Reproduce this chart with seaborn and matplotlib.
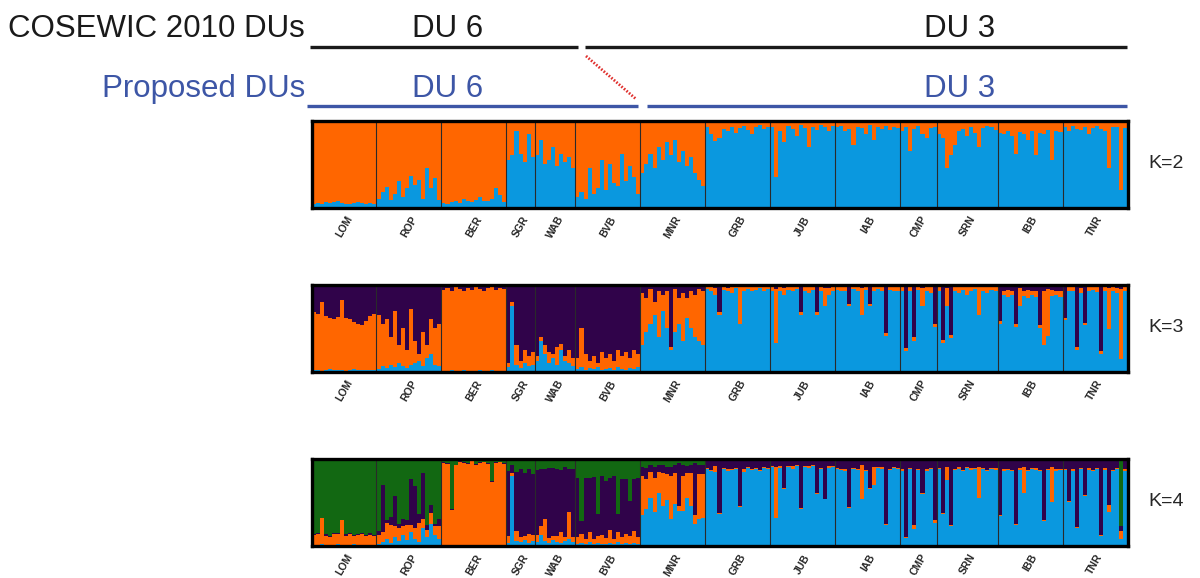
import numpy as np
import pandas as pd
import seaborn as sns
import matplotlib.pyplot as plt

# populations, left to right
pops = ["LOM", "ROP", "BER", "SGR", "WAB", "BVB", "MNR",
        "GRB", "JUB", "IAB", "CMP", "SRN", "IBB", "TNR"]

# ancestry (%) per individual, one inner list per population
# K=2 : blue (bottom), orange = rest
k2_blue = [
    [4, 5, 4, 6, 5, 6, 7, 5, 4, 4, 5, 6, 5, 4, 5, 4],
    [10, 18, 24, 9, 15, 30, 12, 22, 36, 26, 32, 10, 45, 22, 34, 9],
    [5, 4, 6, 8, 5, 10, 7, 6, 9, 12, 8, 7, 10, 22, 14, 6],
    [55, 60, 88, 62, 52, 85, 58],
    [60, 78, 50, 55, 70, 48, 62, 52, 58, 45],
    [12, 18, 10, 45, 15, 22, 55, 20, 50, 28, 25, 62, 30, 48, 35, 15],
    [40, 50, 62, 45, 70, 55, 75, 60, 78, 52, 65, 48, 58, 40, 32, 25],
    [92, 85, 76, 80, 90, 88, 93, 86, 91, 94, 89, 84, 92, 95, 90, 93],
    [93, 35, 88, 75, 94, 90, 82, 95, 91, 70, 93, 89, 95, 92, 88, 94],
    [92, 94, 88, 90, 72, 93, 91, 85, 95, 78, 92, 90, 94, 89, 93, 91],
    [88, 92, 65, 90, 94, 85, 80, 91, 93],
    [85, 80, 45, 60, 72, 88, 90, 82, 93, 86, 70, 91, 94, 92, 89],
    [86, 84, 88, 82, 62, 87, 85, 78, 88, 60, 86, 84, 89, 55, 88, 87],
    [92, 88, 94, 90, 89, 93, 85, 91, 94, 90, 88, 45, 92, 93, 20, 91],
]

# K=3 : blue (bottom), orange, purple = rest
k3_blue = [
    [2, 2, 1, 2, 3, 2, 2, 2, 1, 2, 3, 2, 2, 2, 2, 2],
    [3, 6, 4, 8, 5, 10, 6, 4, 8, 10, 12, 6, 15, 20, 8, 6],
    [1, 1, 2, 1, 1, 2, 1, 1, 1, 2, 1, 1, 2, 1, 1, 1],
    [5, 75, 8, 4, 10, 6, 8],
    [12, 35, 20, 10, 15, 8, 25, 12, 10, 6],
    [3, 5, 2, 4, 3, 5, 2, 3, 4, 2, 5, 3, 2, 4, 3, 5],
    [30, 45, 55, 65, 40, 70, 50, 25, 45, 55, 35, 62, 50, 40, 35, 30],
    [95, 92, 88, 65, 94, 93, 90, 96, 55, 93, 95, 92, 94, 96, 93, 95],
    [93, 33, 92, 88, 94, 92, 95, 65, 93, 90, 94, 65, 92, 75, 88, 93],
    [94, 93, 92, 75, 95, 93, 65, 94, 75, 92, 95, 93, 41, 94, 93, 92],
    [93, 24, 92, 35, 94, 75, 92, 90, 51],
    [92, 33, 75, 39, 93, 90, 94, 88, 92, 95, 65, 93, 90, 94, 92],
    [55, 88, 86, 88, 51, 75, 87, 85, 88, 86, 50, 31, 41, 87, 88, 86],
    [59, 92, 93, 25, 90, 53, 92, 94, 91, 20, 93, 49, 92, 90, 14, 93],
]
k3_orange = [
    [66, 64, 79, 62, 59, 58, 61, 80, 61, 58, 54, 53, 52, 56, 62, 64],
    [62, 49, 56, 32, 65, 20, 44, 21, 64, 25, 8, 39, 15, 40, 42, 49],
    [93, 95, 90, 96, 94, 91, 95, 93, 96, 93, 91, 95, 95, 93, 95, 94],
    [5, 5, 22, 8, 15, 12, 14],
    [6, 5, 10, 12, 5, 20, 7, 6, 15, 9],
    [12, 45, 18, 8, 15, 5, 20, 12, 16, 10, 20, 15, 20, 11, 22, 15],
    [60, 40, 40, 15, 52, 18, 43, 3, 50, 30, 55, 23, 42, 48, 60, 63],
    [3, 5, 8, 3, 4, 3, 7, 3, 42, 5, 4, 5, 4, 3, 4, 3],
    [4, 62, 6, 8, 3, 7, 2, 3, 5, 7, 5, 3, 6, 21, 8, 5],
    [4, 4, 7, 3, 3, 6, 31, 4, 3, 6, 2, 6, 3, 5, 4, 6],
    [5, 3, 5, 5, 5, 21, 6, 7, 4],
    [5, 3, 21, 3, 4, 8, 5, 9, 6, 4, 32, 5, 7, 5, 6],
    [3, 5, 8, 5, 4, 21, 6, 9, 4, 7, 3, 62, 54, 7, 5, 7],
    [3, 5, 5, 3, 6, 3, 5, 4, 6, 3, 5, 47, 5, 6, 81, 5],
]

# K=4 : blue (bottom), orange, purple, green = rest
k4_blue = [
    [1, 1, 2, 1, 1, 1, 2, 1, 1, 1, 2, 1, 1, 1, 1, 1],
    [2, 4, 8, 3, 10, 5, 12, 6, 15, 8, 4, 20, 10, 25, 12, 8],
    [1, 1, 1, 1, 1, 1, 1, 1, 1, 1, 1, 1, 1, 1, 1, 1],
    [3, 80, 5, 4, 6, 3, 5],
    [4, 12, 5, 3, 6, 4, 3, 5, 8, 4],
    [2, 3, 2, 4, 2, 3, 2, 2, 3, 2, 4, 2, 3, 2, 3, 2],
    [35, 42, 55, 38, 60, 45, 52, 30, 48, 40, 40, 55, 45, 25, 30, 32],
    [88, 86, 85, 36, 88, 86, 87, 88, 44, 85, 89, 87, 88, 86, 89, 88],
    [90, 32, 89, 65, 90, 88, 91, 42, 90, 89, 91, 59, 88, 53, 89, 90],
    [88, 87, 86, 43, 88, 87, 53, 86, 65, 70, 89, 88, 24, 87, 89, 88],
    [86, 9, 88, 19, 87, 59, 86, 88, 26],
    [88, 36, 75, 22, 87, 88, 86, 89, 87, 88, 55, 88, 86, 88, 87],
    [34, 86, 87, 86, 24, 87, 60, 86, 88, 87, 86, 28, 87, 50, 86, 87],
    [87, 50, 86, 20, 88, 57, 87, 86, 88, 11, 87, 38, 86, 88, 7, 86],
]
k4_orange = [
    [11, 12, 30, 10, 9, 12, 11, 28, 10, 12, 9, 11, 12, 10, 11, 10],
    [10, 12, 18, 20, 12, 15, 10, 18, 8, 12, 22, 10, 8, 12, 10, 14],
    [94, 93, 40, 92, 95, 94, 93, 96, 92, 94, 95, 93, 72, 94, 95, 93],
    [8, 3, 12, 6, 5, 10, 7],
    [8, 10, 25, 6, 5, 7, 12, 5, 30, 6],
    [8, 10, 6, 12, 5, 8, 10, 7, 15, 6, 12, 8, 10, 9, 14, 8],
    [45, 35, 30, 40, 25, 38, 30, 50, 35, 5, 40, 28, 38, 10, 52, 50],
    [1, 1, 6, 1, 1, 2, 1, 1, 1, 3, 1, 1, 1, 1, 1, 1],
    [1, 58, 2, 1, 1, 3, 1, 1, 1, 2, 1, 1, 1, 1, 2, 1],
    [1, 1, 2, 1, 1, 1, 40, 1, 1, 20, 1, 2, 1, 1, 1, 1],
    [2, 1, 1, 5, 1, 1, 2, 1, 3],
    [1, 1, 15, 1, 1, 2, 1, 1, 2, 1, 35, 1, 1, 1, 2],
    [1, 2, 1, 1, 1, 2, 30, 1, 1, 2, 1, 1, 1, 40, 2, 1],
    [1, 1, 2, 1, 1, 1, 2, 1, 1, 1, 2, 8, 1, 1, 10, 2],
]
k4_purple = [
    [1, 1, 0, 2, 1, 1, 1, 0, 2, 1, 1, 1, 1, 1, 2, 1],
    [5, 53, 3, 10, 35, 5, 8, 5, 54, 48, 10, 53, 5, 10, 3, 8],
    [1, 1, 1, 0, 1, 1, 1, 0, 1, 1, 0, 1, 1, 1, 0, 1],
    [75, 10, 68, 78, 72, 75, 70],
    [75, 66, 58, 80, 78, 77, 72, 80, 50, 78],
    [68, 15, 70, 62, 72, 25, 68, 65, 60, 72, 20, 66, 64, 40, 60, 68],
    [10, 12, 8, 12, 8, 10, 8, 10, 10, 50, 12, 8, 10, 60, 10, 10],
    [9, 11, 7, 61, 9, 10, 10, 9, 53, 10, 8, 10, 9, 11, 8, 9],
    [7, 8, 7, 32, 7, 7, 6, 55, 7, 7, 6, 38, 9, 44, 7, 7],
    [9, 10, 10, 54, 9, 10, 5, 11, 32, 8, 8, 8, 73, 10, 8, 9],
    [10, 88, 9, 74, 10, 38, 10, 9, 68],
    [9, 61, 8, 75, 10, 8, 11, 8, 9, 9, 8, 9, 11, 9, 9],
    [62, 10, 10, 11, 73, 9, 8, 11, 9, 9, 11, 69, 10, 8, 10, 10],
    [10, 47, 10, 77, 9, 40, 9, 11, 9, 86, 9, 52, 11, 9, 5, 10],
]

colors = {"blue": "#0a98df", "orange": "#ff6600",
          "purple": "#30034a", "green": "#126812"}


def long_table(parts, rest_name):
    # parts: list of (cluster name, per-population lists); top cluster is the remainder
    rows = []
    ind = 0
    for p in range(len(pops)):
        for i in range(len(parts[0][1][p])):
            total = 0
            for name, vals in parts:
                rows.append((ind, name, vals[p][i]))
                total += vals[p][i]
            rows.append((ind, rest_name, max(100 - total, 0)))
            ind += 1
    return pd.DataFrame(rows, columns=["ind", "cluster", "q"])


sizes = [len(v) for v in k2_blue]
edges = np.cumsum([0] + sizes)
centers = (edges[:-1] + edges[1:]) / 2 - 0.5
n_ind = edges[-1]

panels = [
    ("K=2", long_table([("blue", k2_blue)], "orange"), ["orange", "blue"]),
    ("K=3", long_table([("blue", k3_blue), ("orange", k3_orange)], "purple"),
     ["purple", "orange", "blue"]),
    ("K=4", long_table([("blue", k4_blue), ("orange", k4_orange),
                        ("purple", k4_purple)], "green"),
     ["green", "purple", "orange", "blue"]),
]

sns.set_theme(style="white")
plt.rcParams["font.family"] = ["Liberation Sans", "DejaVu Sans"]

W, H = 1200, 578
fig = plt.figure(figsize=(12, 5.78), dpi=100)

# header with the DU bars, drawn in pixel coordinates
top = fig.add_axes([0, 0, 1, 1])
top.set_xlim(0, W)
top.set_ylim(H, 0)
top.axis("off")
du_blue = "#3d56a6"
fs = 22.5
top.text(305, 37, "COSEWIC 2010 DUs", ha="right", va="baseline", fontsize=fs, color="#1a1a1a")
top.text(448, 37, "DU 6", ha="center", va="baseline", fontsize=fs, color="#1a1a1a")
top.text(960, 37, "DU 3", ha="center", va="baseline", fontsize=fs, color="#1a1a1a")
top.plot([310, 578], [47, 47], color="#1a1a1a", lw=2.4, solid_capstyle="butt")
top.plot([585, 1127], [47, 47], color="#1a1a1a", lw=2.4, solid_capstyle="butt")
top.text(305, 97, "Proposed DUs", ha="right", va="baseline", fontsize=fs, color=du_blue)
top.text(448, 97, "DU 6", ha="center", va="baseline", fontsize=fs, color=du_blue)
top.text(960, 97, "DU 3", ha="center", va="baseline", fontsize=fs, color=du_blue)
top.plot([307, 638], [106, 106], color=du_blue, lw=2.4, solid_capstyle="butt")
top.plot([647, 1127], [106, 106], color=du_blue, lw=2.4, solid_capstyle="butt")
top.plot([586, 636], [56, 99], color="#e0302e", lw=2.0, linestyle=(0, (0.6, 0.6)))

ax_left = 311.5 / W
ax_w = 816 / W
ax_h = 87 / H
bottoms = [1 - 207.5 / H, 1 - 371.5 / H, 1 - 545.5 / H]

for (klabel, df, order), b in zip(panels, bottoms):
    ax = fig.add_axes([ax_left, b, ax_w, ax_h])
    sns.histplot(data=df, x="ind", weights="q", hue="cluster", hue_order=order,
                 palette=colors, multiple="stack", discrete=True, shrink=1,
                 linewidth=0, alpha=1, legend=False, ax=ax)
    for e in edges[1:-1]:
        ax.axvline(e - 0.5, color="#2a2a2a", lw=0.8)
    ax.set_xlim(-0.5, n_ind - 0.5)
    ax.set_ylim(0, 100)
    ax.set_xlabel("")
    ax.set_ylabel("")
    ax.set_yticks([])
    ax.set_xticks(centers)
    ax.set_xticklabels(pops, rotation=60, fontsize=7.5, fontweight="bold")
    ax.tick_params(axis="x", length=0, pad=5)
    for s in ax.spines.values():
        s.set_visible(True)
        s.set_color("black")
        s.set_linewidth(2.4)
    ax.text(1.025, 0.5, klabel, transform=ax.transAxes, ha="left", va="center", fontsize=14)

fig.savefig("out.png", dpi=100)
